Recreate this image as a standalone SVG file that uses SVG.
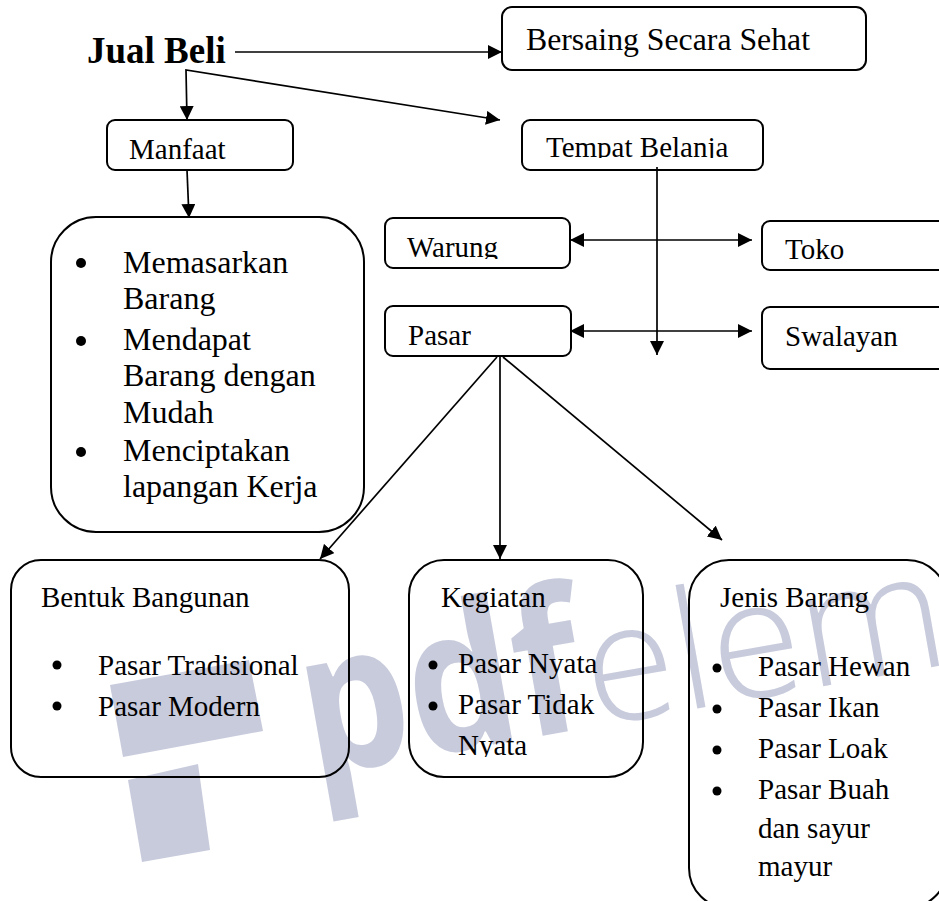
<svg xmlns="http://www.w3.org/2000/svg" width="939" height="901" viewBox="0 0 939 901">
<style>
  .box { fill: none; stroke: #000; stroke-width: 2; }
  .t { font-family: "Liberation Serif", "Times New Roman", serif; font-size: 29px; fill: #000; }
  .tl { font-size: 32px; }
  .title { font-weight: bold; font-size: 37px; }
  .c { fill: none; stroke: #000; stroke-width: 1.7; }
  .dot { fill: #000; }
  .wm { fill: #c8cbdc; }
  .wmb { font-family: "Open Sans", "Noto Sans", sans-serif; font-weight: 700; font-size: 200px; fill: #c8cbdc; }
  .wml { font-family: "Open Sans", "Noto Sans", sans-serif; font-weight: 300; font-size: 165px; fill: #c8cbdc; }
</style>
<defs>
  <marker id="ah" markerUnits="userSpaceOnUse" markerWidth="14" markerHeight="14" refX="14" refY="7" orient="auto-start-reverse" viewBox="0 0 14 14">
    <path d="M0,0 L14,7 L0,14 z" fill="#000"/>
  </marker>
  <clipPath id="clipTempat"><rect x="522" y="120" width="241" height="38"/></clipPath>
  <clipPath id="clipWarung"><rect x="385" y="218" width="185" height="41"/></clipPath>
  <clipPath id="clipNyata"><rect x="409" y="560" width="234" height="197"/></clipPath>
  <clipPath id="clipPage"><rect x="0" y="0" width="939" height="901"/></clipPath>
</defs>
<rect width="939" height="901" fill="#fff"/>

<g id="watermark" clip-path="url(#clipPage)">
  <polygon class="wm" points="110,685 249,660 263,731 123,757"/>
  <polygon class="wm" points="128,780 198,764 210,850 142,862"/>
  <g transform="rotate(-10 320 775)">
    <text class="wmb" x="312" y="775" textLength="283" lengthAdjust="spacingAndGlyphs">pdf</text>
    <text class="wml" x="598" y="775">eleme</text>
  </g>
</g>

<g id="connectors">
  <line class="c" x1="235" y1="52" x2="502" y2="52" marker-end="url(#ah)"/>
  <polyline class="c" points="187,120 186,70 500,120" marker-start="url(#ah)" marker-end="url(#ah)"/>
  <line class="c" x1="187" y1="170" x2="189" y2="218" marker-end="url(#ah)"/>
  <line class="c" x1="657" y1="167" x2="657" y2="355" marker-end="url(#ah)"/>
  <line class="c" x1="570" y1="240" x2="752" y2="240" marker-start="url(#ah)" marker-end="url(#ah)"/>
  <line class="c" x1="570" y1="331" x2="752" y2="331" marker-start="url(#ah)" marker-end="url(#ah)"/>
  <line class="c" x1="497" y1="357" x2="320" y2="559" marker-end="url(#ah)"/>
  <line class="c" x1="500" y1="357" x2="500" y2="559" marker-end="url(#ah)"/>
  <line class="c" x1="503" y1="357" x2="722" y2="540" marker-end="url(#ah)"/>
</g>

<g id="jual-beli">
  <text class="t title" x="87" y="63">Jual Beli</text>
</g>

<g id="bersaing">
  <rect class="box" x="502" y="7" width="364" height="63" rx="10"/>
  <text class="t tl" x="526" y="50" textLength="284" lengthAdjust="spacingAndGlyphs">Bersaing Secara Sehat</text>
</g>

<g id="manfaat">
  <rect class="box" x="107" y="120" width="186" height="50" rx="8"/>
  <text class="t" x="129" y="159">Manfaat</text>
</g>

<g id="tempat-belanja">
  <rect class="box" x="522" y="120" width="241" height="50" rx="8"/>
  <text class="t" x="546" y="157" clip-path="url(#clipTempat)">Tempat Belanja</text>
</g>

<g id="manfaat-list">
  <rect class="box" x="51" y="217" width="313" height="315" rx="45"/>
  <circle class="dot" cx="81" cy="263" r="5"/>
  <circle class="dot" cx="81" cy="341" r="5"/>
  <circle class="dot" cx="81" cy="452" r="5"/>
  <text class="t tl" x="123" y="273">Memasarkan</text>
  <text class="t tl" x="123" y="309">Barang</text>
  <text class="t tl" x="123" y="350">Mendapat</text>
  <text class="t tl" x="123" y="386">Barang dengan</text>
  <text class="t tl" x="123" y="423">Mudah</text>
  <text class="t tl" x="123" y="461">Menciptakan</text>
  <text class="t tl" x="123" y="497">lapangan Kerja</text>
</g>

<g id="warung">
  <rect class="box" x="385" y="218" width="185" height="50" rx="8"/>
  <text class="t" x="407" y="257" clip-path="url(#clipWarung)">Warung</text>
</g>

<g id="toko">
  <rect class="box" x="762" y="221" width="200" height="49" rx="8"/>
  <text class="t" x="785" y="259">Toko</text>
</g>

<g id="pasar">
  <rect class="box" x="385" y="306" width="186" height="50" rx="8"/>
  <text class="t" x="408" y="345">Pasar</text>
</g>

<g id="swalayan">
  <rect class="box" x="762" y="307" width="200" height="62" rx="8"/>
  <text class="t" x="785" y="346">Swalayan</text>
</g>

<g id="bentuk-bangunan">
  <rect class="box" x="11" y="560" width="338" height="217" rx="30"/>
  <text class="t" x="41" y="607">Bentuk Bangunan</text>
  <circle class="dot" cx="57" cy="665" r="4.5"/>
  <circle class="dot" cx="57" cy="706" r="4.5"/>
  <text class="t" x="98" y="675">Pasar Tradisional</text>
  <text class="t" x="98" y="716">Pasar Modern</text>
</g>

<g id="kegiatan">
  <rect class="box" x="409" y="560" width="234" height="217" rx="35"/>
  <text class="t" x="441" y="607">Kegiatan</text>
  <circle class="dot" cx="433" cy="665" r="4.5"/>
  <circle class="dot" cx="433" cy="706" r="4.5"/>
  <text class="t" x="458" y="673">Pasar Nyata</text>
  <text class="t" x="458" y="714">Pasar Tidak</text>
  <text class="t" x="458" y="755" clip-path="url(#clipNyata)">Nyata</text>
</g>

<g id="jenis-barang">
  <rect class="box" x="689" y="560" width="258" height="348" rx="40"/>
  <text class="t" x="720" y="607">Jenis Barang</text>
  <circle class="dot" cx="717" cy="668" r="4.5"/>
  <circle class="dot" cx="717" cy="709" r="4.5"/>
  <circle class="dot" cx="717" cy="750" r="4.5"/>
  <circle class="dot" cx="717" cy="791" r="4.5"/>
  <text class="t" x="758" y="676">Pasar Hewan</text>
  <text class="t" x="758" y="717">Pasar Ikan</text>
  <text class="t" x="758" y="758">Pasar Loak</text>
  <text class="t" x="758" y="799">Pasar Buah</text>
  <text class="t" x="758" y="838">dan sayur</text>
  <text class="t" x="758" y="876">mayur</text>
</g>
</svg>
